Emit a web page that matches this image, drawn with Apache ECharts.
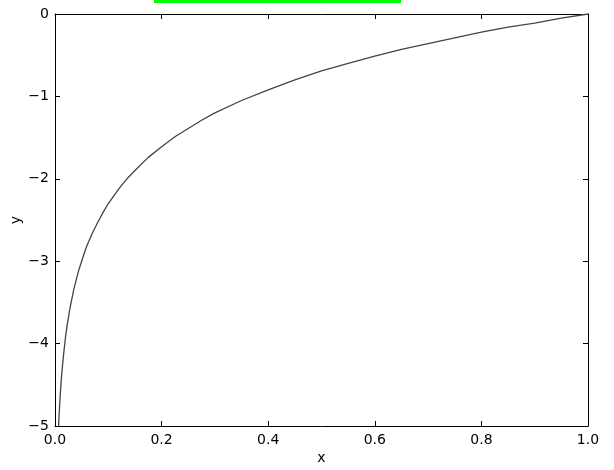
<!DOCTYPE html>
<html>
<head>
<meta charset="utf-8">
<script src="https://cdn.jsdelivr.net/npm/echarts@6/dist/echarts.min.js"></script>
<style>html,body{margin:0;padding:0;background:#fff;}#c{width:614px;height:470px;}</style>
</head>
<body>
<div id="c"></div>
<script>
// values
var xValues = [0.0068, 0.0075, 0.0085, 0.01, 0.011, 0.0125, 0.014, 0.016, 0.018, 0.02, 0.0225, 0.025, 0.0275, 0.03, 0.035, 0.04, 0.045, 0.05, 0.055, 0.06, 0.07, 0.08, 0.09, 0.1, 0.11, 0.12, 0.135, 0.15, 0.175, 0.2, 0.225, 0.25, 0.275, 0.3, 0.35, 0.4, 0.45, 0.5, 0.55, 0.6, 0.65, 0.7, 0.75, 0.8, 0.85, 0.9, 0.95, 1.0];
var yValues = [-5.0, -4.89, -4.77, -4.61, -4.51, -4.38, -4.27, -4.14, -4.02, -3.91, -3.79, -3.69, -3.59, -3.51, -3.35, -3.22, -3.10, -3.00, -2.90, -2.81, -2.66, -2.53, -2.41, -2.30, -2.21, -2.12, -2.00, -1.90, -1.74, -1.61, -1.49, -1.39, -1.29, -1.20, -1.05, -0.92, -0.80, -0.69, -0.60, -0.51, -0.43, -0.36, -0.29, -0.22, -0.16, -0.11, -0.05, 0.0];
var xTicks = [0, 0.2, 0.4, 0.6, 0.8, 1.0];
var yTicks = [-5, -4, -3, -2, -1, 0];

var points = xValues.map(function (x, i) { return [x, yValues[i]]; });
var font = 'DejaVu Sans';
var axisLine = { show: true, onZero: false, lineStyle: { color: '#000', width: 1 } };
var tick = { show: true, inside: true, length: 5, lineStyle: { color: '#000', width: 1 } };

var chart = echarts.init(document.getElementById('c'), null, { renderer: 'canvas' });
chart.setOption({
  animation: false,
  backgroundColor: '#fff',
  grid: { left: 55, right: 26, top: 14, bottom: 44, containLabel: false, outerBoundsMode: 'none' },
  xAxis: [{
    type: 'value', min: 0, max: 1, interval: 0.2, position: 'bottom',
    name: 'x', nameLocation: 'middle', nameGap: 25, nameMoveOverlap: false,
    nameTextStyle: { fontFamily: font, fontSize: 14, color: '#000' },
    axisLine: axisLine, axisTick: tick, splitLine: { show: false },
    axisLabel: { fontFamily: font, fontSize: 14, color: '#000', margin: 7,
      formatter: function (v) { return v.toFixed(1); } }
  }, {
    type: 'value', min: 0, max: 1, interval: 0.2, position: 'top',
    axisLine: axisLine, axisTick: tick, splitLine: { show: false }, axisLabel: { show: false }
  }],
  yAxis: [{
    type: 'value', min: -5, max: 0, interval: 1, position: 'left',
    name: 'y', nameLocation: 'middle', nameGap: 32, nameRotate: 90, nameMoveOverlap: false,
    nameTextStyle: { fontFamily: font, fontSize: 14, color: '#000' },
    axisLine: axisLine, axisTick: tick, splitLine: { show: false },
    axisLabel: { fontFamily: font, fontSize: 14, color: '#000', margin: 6,
      formatter: function (v) { return v < 0 ? '\u2212' + Math.abs(v) : String(v); } }
  }, {
    type: 'value', min: -5, max: 0, interval: 1, position: 'right',
    axisLine: axisLine, axisTick: tick, splitLine: { show: false }, axisLabel: { show: false }
  }],
  graphic: [{
    type: 'rect', left: 154, top: 0, shape: { width: 247, height: 3 },
    style: { fill: '#00ff00' }, z: 100
  }],
  series: [{
    type: 'line', data: points, showSymbol: false, smooth: false,
    lineStyle: { color: '#444', width: 1.3 }, clip: true
  }]
});
</script>
</body>
</html>
